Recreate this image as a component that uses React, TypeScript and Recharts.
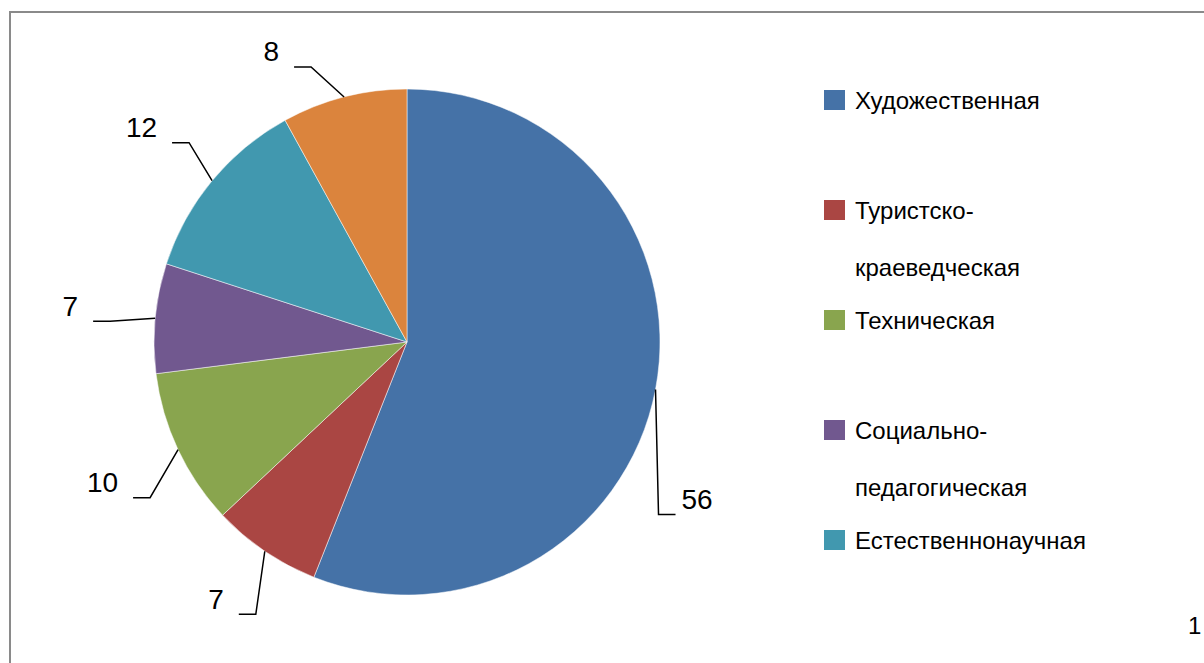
import { PieChart, Pie, Cell, Legend } from 'recharts'

const categories = [
  'Художественная',
  'Туристско-краеведческая',
  'Техническая',
  'Социально-педагогическая',
  'Естественнонаучная',
  'Физкультурно-спортивная',
]
const values = [56, 7, 10, 7, 12, 8]
const colors = ['#4572A7', '#AA4643', '#89A54E', '#71588F', '#4198AF', '#DB843D']

// leader line bend, relative to the slice's edge point (dx, dy)
const leaderBends = [[3, 125], [-9, 63], [-28, 48], [-45, 3], [-23, -38], [-33, -30]]

const data = categories.map((name, i) => ({ name, value: values[i] }))

const FONT = '"Liberation Sans", Arial, sans-serif'
const RAD = Math.PI / 180
const LEGEND_H = 478
const SLOT = 110

const renderLabel = (props: any) => {
  const { cx, cy, midAngle, outerRadius, value, index } = props
  const ax = cx + outerRadius * Math.cos(-midAngle * RAD)
  const ay = cy + outerRadius * Math.sin(-midAngle * RAD)
  const [dx, dy] = leaderBends[index]
  const bx = ax + dx
  const by = ay + dy
  const dir = Math.cos(-midAngle * RAD) >= 0 ? 1 : -1
  const ex = bx + dir * 17
  return (
    <g>
      <polyline
        points={`${ax},${ay} ${bx},${by} ${ex},${by}`}
        fill="none"
        stroke="#000"
        strokeWidth={1.5}
      />
      <text
        x={ex + dir * (dir > 0 ? 6 : 15)}
        y={by - 15}
        textAnchor={dir > 0 ? 'start' : 'end'}
        dominantBaseline="central"
        fontFamily={FONT}
        fontSize={28}
        fill="#000"
      >
        {value}
      </text>
    </g>
  )
}

// legend box is too short for all entries, like in the source slide
const renderLegend = () => (
  <div style={{ position: 'relative', width: 360, height: LEGEND_H, overflow: 'hidden', fontFamily: FONT }}>
    {categories.map((name, i) =>
      8 + SLOT * i + 20 > LEGEND_H ? null : (
        <div key={name} style={{ position: 'absolute', left: 0, top: 8 + SLOT * i }}>
          <div style={{ position: 'absolute', left: 0, top: 0, width: 21, height: 20, background: colors[i] }} />
          <div
            style={{
              position: 'absolute',
              left: 31,
              top: -18.5,
              width: 250,
              fontSize: 24,
              lineHeight: '57px',
              color: '#000',
            }}
          >
            {name}
          </div>
        </div>
      )
    )}
  </div>
)

export default function App() {
  return (
    <div style={{ position: 'fixed', left: 0, top: 0, width: 1204, height: 663, overflow: 'hidden', background: '#fff' }}>
      <div
        style={{
          position: 'absolute',
          left: 9,
          top: 11,
          width: 1300,
          height: 800,
          borderTop: '2px solid #8a8a8a',
          borderLeft: '2px solid #8a8a8a',
        }}
      />
      <div style={{ position: 'absolute', left: 0, top: 0 }}>
        <PieChart width={1204} height={663} margin={{ top: 0, right: 0, bottom: 0, left: 0 }}>
          <Pie
            data={data}
            dataKey="value"
            nameKey="name"
            cx={407}
            cy={342}
            outerRadius={253}
            startAngle={90}
            endAngle={-270}
            stroke="#fff"
            strokeWidth={0.5}
            label={renderLabel}
            labelLine={false}
            isAnimationActive={false}
          >
            {data.map((d, i) => (
              <Cell key={d.name} fill={colors[i]} />
            ))}
          </Pie>
          <Legend
            layout="vertical"
            align="right"
            verticalAlign="top"
            content={renderLegend}
            wrapperStyle={{ position: 'absolute', left: 824, top: 82, width: 360, height: LEGEND_H }}
          />
        </PieChart>
      </div>
      <div style={{ position: 'absolute', left: 1188, top: 612, fontFamily: FONT, fontSize: 24, color: '#000' }}>1</div>
    </div>
  )
}
